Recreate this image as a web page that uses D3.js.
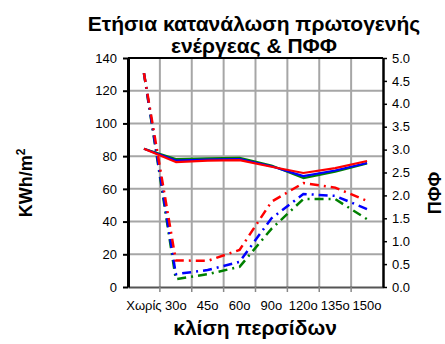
<!DOCTYPE html>
<html>
<head>
<meta charset="utf-8">
<script src="https://cdn.jsdelivr.net/npm/d3@7"></script>
<style>
  html, body { margin: 0; padding: 0; background: #fff; }
  svg { display: block; font-family: "Liberation Sans", Arial, sans-serif; }
</style>
</head>
<body>
<svg id="chart" width="445" height="344"></svg>
<script>
// Categories: blind tilt angle
const categories = ["Χωρίς", "30ο", "45ο", "60ο", "90ο", "120ο", "135ο", "150ο"];

// Annual primary energy consumption (kWh/m²), left axis
const energyGreen = [84.5, 78.2, 78.7, 78.9, 74.3, 66.6, 70.5, 75.6];
const energyBlue  = [84.5, 77.3, 77.9, 78.2, 73.8, 67.8, 71.2, 75.8];
const energyRed   = [84.5, 76.4, 77.2, 77.6, 73.5, 69.7, 72.7, 77.0];

// ΠΦΦ values, right axis
const pffGreen = [4.67, 0.17, 0.28, 0.44, 1.27, 1.92, 1.92, 1.48];
const pffBlue  = [4.67, 0.28, 0.37, 0.55, 1.50, 2.03, 1.99, 1.70];
const pffRed   = [4.67, 0.58, 0.57, 0.81, 1.86, 2.27, 2.17, 1.88];

// Axis ticks
const leftTicks = [0, 20, 40, 60, 80, 100, 120, 140];
const rightTicks = [0, 0.5, 1, 1.5, 2, 2.5, 3, 3.5, 4, 4.5, 5];

const titleLines = ["Ετήσια κατανάλωση πρωτογενής", "ενέργεας & ΠΦΦ"];
const xTitle = "κλίση περσίδων";
const pffTitle = "ΠΦΦ";

const plot = { left: 128, right: 383, top: 58, bottom: 287 };
const svg = d3.select("#chart");

const x = d3.scaleBand().domain(categories).range([plot.left, plot.right]).padding(0);
const yL = d3.scaleLinear().domain([0, 140]).range([plot.bottom, plot.top]);
const yR = d3.scaleLinear().domain([0, 5]).range([plot.bottom, plot.top]);
const cx = c => x(c) + x.bandwidth() / 2;

// Grid
const grid = svg.append("g").attr("stroke", "#a6a6a6").attr("stroke-width", 2);
grid.selectAll("line.h").data(leftTicks.slice(1, -1)).join("line")
  .attr("x1", plot.left).attr("x2", plot.right)
  .attr("y1", d => yL(d)).attr("y2", d => yL(d));
grid.selectAll("line.v").data(categories.slice(1)).join("line")
  .attr("x1", d => x(d)).attr("x2", d => x(d))
  .attr("y1", plot.top).attr("y2", plot.bottom);

// Top border
svg.append("line").attr("x1", plot.left).attr("x2", plot.right)
  .attr("y1", plot.top).attr("y2", plot.top)
  .attr("stroke", "#000").attr("stroke-width", 2);

// Bottom axis: labels at band centres, ticks at band boundaries
const xAxis = svg.append("g").attr("transform", `translate(0,${plot.bottom})`)
  .call(d3.axisBottom(x).tickSize(0).tickPadding(14));
xAxis.select(".domain").attr("stroke", "#555").attr("stroke-width", 2);
xAxis.selectAll("text").attr("font-size", 13).attr("fill", "#000")
  .attr("font-family", "Liberation Sans, Arial, sans-serif");
svg.append("g").selectAll("line").data(categories.slice(1)).join("line")
  .attr("x1", d => x(d)).attr("x2", d => x(d))
  .attr("y1", plot.bottom).attr("y2", plot.bottom + 5)
  .attr("stroke", "#888").attr("stroke-width", 1.5);

// Left axis
const leftAxis = svg.append("g").attr("transform", `translate(${plot.left},0)`)
  .call(d3.axisLeft(yL).tickValues(leftTicks).tickSize(5).tickSizeOuter(0).tickPadding(6));
leftAxis.select(".domain").attr("stroke", "#000").attr("stroke-width", 3);
leftAxis.selectAll(".tick line").attr("stroke", "#000").attr("stroke-width", 2);
leftAxis.selectAll("text").attr("font-size", 13).attr("fill", "#000")
  .attr("font-family", "Liberation Sans, Arial, sans-serif");

// Right axis
const rightAxis = svg.append("g").attr("transform", `translate(${plot.right},0)`)
  .call(d3.axisRight(yR).tickValues(rightTicks).tickFormat(d3.format(".1f"))
    .tickSize(4).tickSizeOuter(0).tickPadding(5));
rightAxis.select(".domain").attr("stroke", "#000").attr("stroke-width", 2.5);
rightAxis.selectAll(".tick line").attr("stroke", "#000").attr("stroke-width", 1.5);
rightAxis.selectAll("text").attr("font-size", 13).attr("fill", "#000")
  .attr("font-family", "Liberation Sans, Arial, sans-serif");

// Series
const lineL = d3.line().x((d, i) => cx(categories[i])).y(d => yL(d));
const lineR = d3.line().x((d, i) => cx(categories[i])).y(d => yR(d));

const solids = [[energyGreen, "#008000"], [energyBlue, "#0000ff"], [energyRed, "#ff0000"]];
const dashed = [[pffGreen, "#008000"], [pffBlue, "#0000ff"], [pffRed, "#ff0000"]];

svg.append("g").selectAll("path").data(dashed).join("path")
  .attr("d", d => lineR(d[0])).attr("fill", "none")
  .attr("stroke", d => d[1]).attr("stroke-width", 2.5)
  .attr("stroke-dasharray", "9,5,2,5");

svg.append("g").selectAll("path").data(solids).join("path")
  .attr("d", d => lineL(d[0])).attr("fill", "none")
  .attr("stroke", d => d[1]).attr("stroke-width", 2.2)
  .attr("stroke-linejoin", "round");

// Titles
svg.append("g").selectAll("text").data(titleLines).join("text")
  .attr("x", 254).attr("y", (d, i) => 31 + i * 22)
  .attr("text-anchor", "middle").attr("font-size", 21).attr("font-weight", "bold")
  .text(d => d);

svg.append("text").attr("x", 255).attr("y", 335)
  .attr("text-anchor", "middle").attr("font-size", 21).attr("font-weight", "bold")
  .text(xTitle);

const yt = svg.append("text").attr("transform", "translate(32,183) rotate(-90)")
  .attr("text-anchor", "middle").attr("font-size", 18).attr("font-weight", "bold");
yt.append("tspan").text("KWh/m");
yt.append("tspan").attr("font-size", 12).attr("dy", -7).text("2");

svg.append("text").attr("transform", "translate(441,193) rotate(-90)")
  .attr("text-anchor", "middle").attr("font-size", 18).attr("font-weight", "bold")
  .text(pffTitle);
</script>
</body>
</html>
